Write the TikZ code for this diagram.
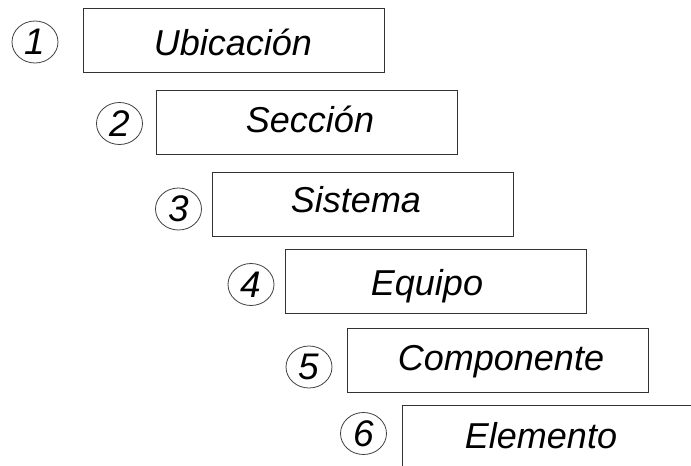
\documentclass[tikz,border=0pt]{standalone}
\usepackage{fontspec}
\setmainfont{Liberation Sans}
\usetikzlibrary{shapes.geometric}
\begin{document}
\begin{tikzpicture}[x=1pt,y=-1pt,
  boxst/.style={draw=black!80,line width=1.3pt,rectangle,minimum width=301pt,minimum height=64pt,inner sep=0pt,anchor=north west},
  numst/.style={draw=black!75,line width=0.8pt,ellipse,minimum width=46pt,minimum height=42pt,inner sep=0pt,font=\fontsize{37}{37}\selectfont\itshape},
  txtst/.style={anchor=base,inner sep=0pt,font=\fontsize{36}{36}\selectfont\itshape}]
\clip (0,0) rectangle (691,466);
\fill[white] (0,0) rectangle (691,466);
\node[boxst] (b1) at (83,8) {};
\node[boxst] (b2) at (156,90) {};
\node[boxst] (b3) at (212,172) {};
\node[boxst] (b4) at (285,249) {};
\node[boxst] (b5) at (347,328) {};
\node[boxst] (b6) at (402,405) {};
\node[txtst] (t1) at (233,55) {Ubicación};
\node[txtst] (t2) at (310,132) {Sección};
\node[txtst] (t3) at (356,212) {Sistema};
\node[txtst] (t4) at (427,295) {Equipo};
\node[txtst] (t5) at (501,370) {Componente};
\node[txtst] (t6) at (541,448) {Elemento};
\node[numst] (c1) at (35,42) {1};
\node[numst] (c2) at (119.5,123.5) {2};
\node[numst] (c3) at (178.5,209) {3};
\node[numst] (c4) at (251,284.5) {4};
\node[numst] (c5) at (309,367) {5};
\node[numst] (c6) at (363.5,433.5) {6};
\end{tikzpicture}
\end{document}
